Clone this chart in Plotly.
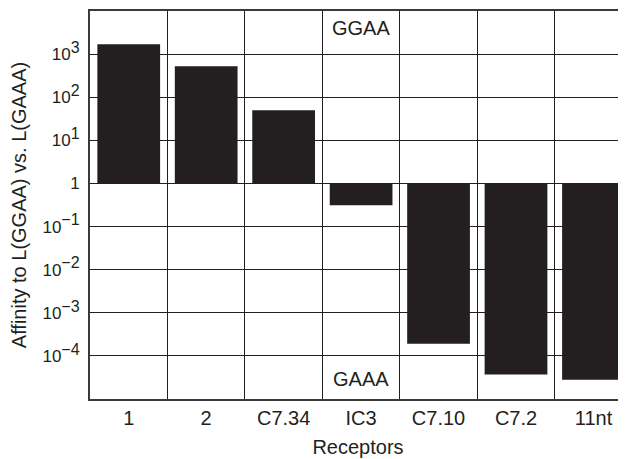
import plotly.graph_objects as go

receptors = ["1", "2", "C7.34", "IC3", "C7.10", "C7.2", "11nt"]
affinity_ratio = [1700, 520, 50, 0.31, 1.9e-4, 3.7e-5, 2.8e-5]
baseline = 1.0

ytick_vals = [1e3, 1e2, 1e1, 1, 1e-1, 1e-2, 1e-3, 1e-4]
ytick_exps = ["3", "2", "1", None, "−1", "−2", "−3", "−4"]

def sup_label(e):
    if e is None:
        return "1"
    return "10<sup><span style='font-size:16px'>" + e + "</span></sup>"

ytick_text = [sup_label(e) for e in ytick_exps]

ink = "#231f20"
font = "Liberation Sans, Arial, Helvetica, sans-serif"

fig = go.Figure()
fig.add_trace(go.Bar(
    x=receptors,
    y=[v - baseline for v in affinity_ratio],
    base=baseline,
    width=0.81,
    marker=dict(color=ink, line=dict(width=0)),
    hoverinfo="skip",
))

fig.add_annotation(x="IC3", y=3.6, text="GGAA", showarrow=False,
                   font=dict(size=20, color=ink, family=font))
fig.add_annotation(x="IC3", y=-4.53, text="GAAA", showarrow=False,
                   font=dict(size=20, color=ink, family=font))

# page body has an 8px margin, compensate so the plot area sits at x 90..626, y 11..399
fig.update_layout(
    width=626, height=459,
    margin=dict(l=82, r=8, t=3, b=68),
    paper_bgcolor="white", plot_bgcolor="white",
    showlegend=False,
    font=dict(family=font, size=20, color=ink),
)
fig.update_xaxes(
    type="category",
    range=[-0.5, 6.42],
    automargin=False,
    tickson="boundaries",
    showgrid=True, gridcolor=ink, gridwidth=1,
    showline=True, linecolor="#3a3a3a", linewidth=2, mirror=True,
    ticks="", ticklen=0,
    tickfont=dict(size=20, color=ink),
    title=dict(text="Receptors", font=dict(size=20, color=ink), standoff=12),
)
fig.update_yaxes(
    type="log",
    range=[-5, 4],
    automargin=False,
    tickvals=ytick_vals, ticktext=ytick_text,
    showgrid=True, gridcolor=ink, gridwidth=1,
    showline=True, linecolor="#3a3a3a", linewidth=2,
    ticks="",
    ticklabelstandoff=5,
    tickfont=dict(size=17, color=ink),
    title=dict(text="Affinity to L(GGAA) vs. L(GAAA)", font=dict(size=20, color=ink), standoff=19),
)

fig.write_html("out.html")
